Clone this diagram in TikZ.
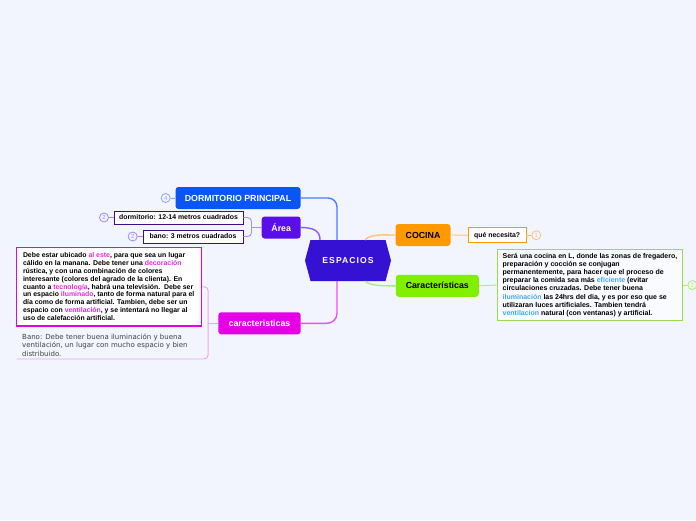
\documentclass[tikz,border=0pt]{standalone}
\usepackage{fontspec}
\setmainfont{Liberation Sans}
\newfontfamily\plainfont{DejaVu Sans}

\definecolor{fondo}{HTML}{F2F5FE}
\definecolor{azulcentro}{HTML}{3511D4}
\definecolor{azuldorm}{HTML}{0A55F5}
\definecolor{moradoarea}{HTML}{5A0EEA}
\definecolor{naranja}{HTML}{FF9900}
\definecolor{lima}{HTML}{80F000}
\definecolor{rosa}{HTML}{E600E6}
\definecolor{hlrosa}{HTML}{E628DC}
\definecolor{hlazul}{HTML}{3CA8F5}
\definecolor{bordemorado}{HTML}{3C0E8C}
\definecolor{ramaazul}{HTML}{4A7DFF}
\definecolor{insazul}{HTML}{8AA2F8}
\definecolor{ramamorado}{HTML}{8A5CF0}
\definecolor{insmorado}{HTML}{A088F0}
\definecolor{naranjaclaro}{HTML}{FFC078}
\definecolor{limaclaro}{HTML}{A8F070}
\definecolor{ramarosa}{HTML}{EE50EE}
\definecolor{rosaclaro}{HTML}{F0A0F0}

\newcommand{\resrosa}[1]{\textcolor{hlrosa}{#1}}
\newcommand{\resazul}[1]{\textcolor{hlazul}{#1}}

\tikzset{
  tema/.style={rounded corners=3, minimum height=22, inner sep=0, align=center,
    font=\fontsize{8.8}{10}\selectfont\bfseries},
  subtema/.style={draw=bordemorado, fill=white, line width=0.8, minimum height=13,
    inner sep=0, font=\fontsize{6.9}{8}\selectfont\bfseries},
  insignia/.style={circle, draw=#1, fill=fondo, line width=0.8, minimum size=9,
    inner sep=0, text=#1, font=\fontsize{6}{6}\selectfont},
  rama/.style={line width=1.4, draw=#1},
  fina/.style={line width=0.9, draw=#1},
  notabox/.style={inner sep=0, align=left, font=\fontsize{6.9}{7.8}\selectfont\bfseries}
}

\begin{document}
\begin{tikzpicture}[x=1pt, y=-1pt]
    \fill[fondo] (0,0) rectangle (696,520);
    \useasboundingbox (0,0) rectangle (696,520);

    % =========================================================
    % NODO CENTRAL
    % =========================================================
    \node[minimum width=86, minimum height=41, inner sep=0, fill=fondo, text=white,
          font=\fontsize{8.6}{9}\selectfont\bfseries\addfontfeatures{LetterSpace=12},
          path picture={\fill[azulcentro] (path picture bounding box.west)
            -- ([xshift=5.5]path picture bounding box.north west)
            -- ([xshift=-5.5]path picture bounding box.north east)
            -- (path picture bounding box.east)
            -- ([xshift=-5.5]path picture bounding box.south east)
            -- ([xshift=5.5]path picture bounding box.south west) -- cycle;}]
          (esp) at (348,260.5) {ESPACIOS};

    % =========================================================
    % DORMITORIO (izquierda)
    % =========================================================
    \node[tema, fill=azuldorm, text=white, minimum width=125] (dorm) at (238,198) {DORMITORIO PRINCIPAL};
    \node[insignia=insazul] (ins4) at (165.7,198) {4};

    % Area y sus medidas
    \node[tema, fill=moradoarea, text=white, minimum width=39] (area) at (281.2,227.5) {Área};
    \node[subtema, minimum width=129] (medd) at (178.5,217.5) {dormitorio: 12-14 metros cuadrados};
    \node[subtema, minimum width=100] (medb) at (193,236.5) {bano: 3 metros cuadrados};
    \node[insignia=insmorado] (ins2a) at (104,217.5) {2};
    \node[insignia=insmorado] (ins2b) at (132.7,236.5) {2};

    % caracteristicas del dormitorio
    \node[tema, fill=rosa, text=white, minimum width=82.4] (carac) at (259.5,323.3) {caracteristicas};
    \node[notabox, draw=rosa, line width=1.2, fill=white, minimum width=185, minimum height=78.7]
          (notad) at (108.7,286.7) {%
      Debe estar ubicado \resrosa{al este}, para que sea un lugar\\
      cálido en la manana. Debe tener una \resrosa{decoración}\\
      rústica, y con una combinación de colores\\
      interesante (colores del agrado de la clienta). En\\
      cuanto a \resrosa{tecnología}, habrá una televisión.\ \ Debe ser\\
      un espacio \resrosa{iluminado}, tanto de forma natural para el\\
      día como de forma artificial. Tambien, debe ser un\\
      espacio con \resrosa{ventilación}, y se intentará no llegar al\\
      uso de calefacción artificial.};
    \node[anchor=south west, inner xsep=5.3, inner ysep=2, align=left, text=black!75,
          font=\plainfont\fontsize{7}{8.8}\selectfont] (notab) at (16.7,359) {%
      Bano: Debe tener buena iluminación y buena\\
      ventilación, un lugar con mucho espacio y bien\\
      distribuido.};

    % =========================================================
    % COCINA (derecha)
    % =========================================================
    \node[tema, fill=naranja, text=black, minimum width=55] (coc) at (423,235) {COCINA};
    \node[subtema, draw=naranja, minimum width=57.7, minimum height=15] (nec) at (497.2,235.2) {qué necesita?};
    \node[insignia=naranjaclaro] (ins1) at (536.3,235.2) {1};

    \node[tema, fill=lima, text=black, minimum width=83] (car) at (437.3,285.8) {Características};
    \node[notabox, draw=lima!85!black!70, line width=1.1, fill=white!60!fondo, minimum width=185.4, minimum height=70.6,
          font=\fontsize{7}{8.2}\selectfont\bfseries]
          (notac) at (590,285) {%
      Será una cocina en L, donde las zonas de fregadero,\\
      preparación y cocción se conjugan\\
      permanentemente, para hacer que el proceso de\\
      preparar la comida sea más \resazul{eficiente} (evitar\\
      circulaciones cruzadas. Debe tener buena\\
      \resazul{iluminación} las 24hrs del dia, y es por eso que se\\
      utilizaran luces artificiales. Tambien tendrá\\
      \resazul{ventilacion} natural (con ventanas) y artificial.};
    \node[insignia=limaclaro] (ins2c) at (692.3,285) {2};

    % =========================================================
    % RAMAS
    % =========================================================
    \draw[rama=ramaazul, rounded corners=9] (dorm.east) -| ([xshift=-11]esp.north);
    \draw[rama=ramamorado] (area.east) .. controls +(14,0) and +(0,-8) .. ([xshift=-28]esp.north);
    \draw[rama=naranjaclaro] ([xshift=17]esp.north) .. controls +(6,-6) and +(-12,0) .. (coc.west);
    \draw[rama=limaclaro] ([xshift=17]esp.south) .. controls +(6,5) and +(-12,0) .. (car.west);
    \draw[rama=ramarosa, rounded corners=10] ([xshift=-11]esp.south) |- (carac.east);

    % ramas secundarias
    \draw[fina=ramamorado!70, rounded corners=4] (medd.east) -| ([xshift=-10]area.west) |- (medb.east);
    \draw[fina=ramamorado!70] ([xshift=-10]area.west) -- (area.west);
    \draw[fina=rosaclaro, rounded corners=4] (notad.east) -| ([xshift=-10]carac.west) |- (notab.south west);
    \draw[fina=rosaclaro] ([xshift=-10]carac.west) -- (carac.west);
    \draw[fina=naranjaclaro] (coc.east) -- (nec.west);
    \draw[fina=limaclaro] (car.east) -- (notac.west);

    % insignias
    \draw[fina=insazul] (ins4) -- (dorm.west);
    \draw[fina=insmorado] (ins2a) -- (medd.west);
    \draw[fina=insmorado] (ins2b) -- (medb.west);
    \draw[fina=naranjaclaro] (nec.east) -- (ins1);
    \draw[fina=limaclaro] (notac.east) -- (ins2c);
\end{tikzpicture}
\end{document}
